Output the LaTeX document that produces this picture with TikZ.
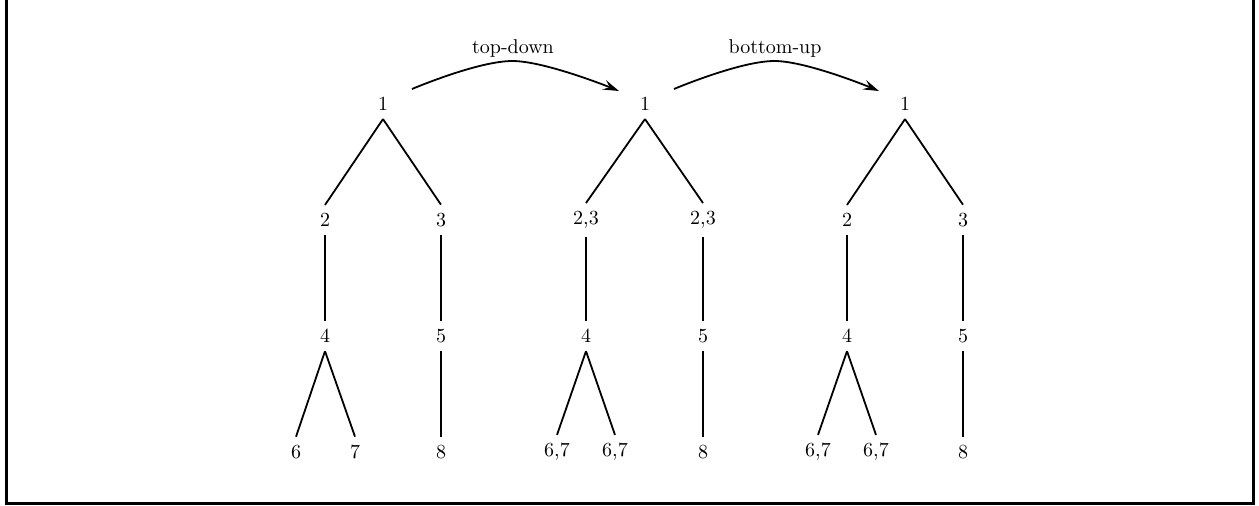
\documentclass[tikz,border=0pt]{standalone}
\usetikzlibrary{arrows.meta}
\begin{document}
\begin{tikzpicture}[x=0.5pt,y=-0.5pt,
  lbl/.style={inner sep=4pt},
  edge/.style={line width=0.9pt},
  pass/.style={line width=0.9pt,-{Stealth[length=8pt,width=5pt,inset=3pt]}}]
\useasboundingbox (0,0) rectangle (1259,505);
\begin{scope}
\clip (0,0) rectangle (1259,505);
\draw[line width=1.5pt] (6,-20) -- (6,503) -- (1253,503) -- (1253,-20);
\end{scope}

% first tree
\node[lbl] (a1) at (383,104) {1};
\node[lbl] (a2) at (325,220) {2};
\node[lbl] (a3) at (441,220) {3};
\node[lbl] (a4) at (325,336) {4};
\node[lbl] (a5) at (441,336) {5};
\node[lbl] (a6) at (296,452) {6};
\node[lbl] (a7) at (355,452) {7};
\node[lbl] (a8) at (441,452) {8};
\draw[edge] (a1.south) -- (a2.north);
\draw[edge] (a1.south) -- (a3.north);
\draw[edge] (a2.south) -- (a4.north);
\draw[edge] (a3.south) -- (a5.north);
\draw[edge] (a4.south) -- (a6.north);
\draw[edge] (a4.south) -- (a7.north);
\draw[edge] (a5.south) -- (a8.north);

% second tree
\node[lbl] (b1) at (645,104) {1};
\node[lbl] (b2) at (586,220) {2,3};
\node[lbl] (b3) at (703,220) {2,3};
\node[lbl] (b4) at (586,336) {4};
\node[lbl] (b5) at (703,336) {5};
\node[lbl] (b6) at (557,452) {6,7};
\node[lbl] (b7) at (615,452) {6,7};
\node[lbl] (b8) at (703,452) {8};
\draw[edge] (b1.south) -- (b2.north);
\draw[edge] (b1.south) -- (b3.north);
\draw[edge] (b2.south) -- (b4.north);
\draw[edge] (b3.south) -- (b5.north);
\draw[edge] (b4.south) -- (b6.north);
\draw[edge] (b4.south) -- (b7.north);
\draw[edge] (b5.south) -- (b8.north);

% third tree
\node[lbl] (c1) at (905,104) {1};
\node[lbl] (c2) at (847,220) {2};
\node[lbl] (c3) at (963,220) {3};
\node[lbl] (c4) at (847,336) {4};
\node[lbl] (c5) at (963,336) {5};
\node[lbl] (c6) at (818,452) {6,7};
\node[lbl] (c7) at (876,452) {6,7};
\node[lbl] (c8) at (963,452) {8};
\draw[edge] (c1.south) -- (c2.north);
\draw[edge] (c1.south) -- (c3.north);
\draw[edge] (c2.south) -- (c4.north);
\draw[edge] (c3.south) -- (c5.north);
\draw[edge] (c4.south) -- (c6.north);
\draw[edge] (c4.south) -- (c7.north);
\draw[edge] (c5.south) -- (c8.north);

% passes between the trees
\coordinate (p1s) at ([shift={(29,-15)}]a1.center);
\coordinate (p1m) at ([shift={(130,-43)}]a1.center);
\coordinate (p1e) at ([shift={(-26,-13)}]b1.center);
\coordinate (p2s) at ([shift={(29,-15)}]b1.center);
\coordinate (p2m) at ([shift={(130,-43)}]b1.center);
\coordinate (p2e) at ([shift={(-26,-13)}]c1.center);
\draw[pass] plot[smooth,tension=0.6] coordinates {(p1s) (p1m) (p1e)};
\draw[pass] plot[smooth,tension=0.6] coordinates {(p2s) (p2m) (p2e)};
\node (t1) at ([yshift=6.5pt]p1m) {top-down};
\node (t2) at ([yshift=6.5pt]p2m) {bottom-up};
\end{tikzpicture}
\end{document}
